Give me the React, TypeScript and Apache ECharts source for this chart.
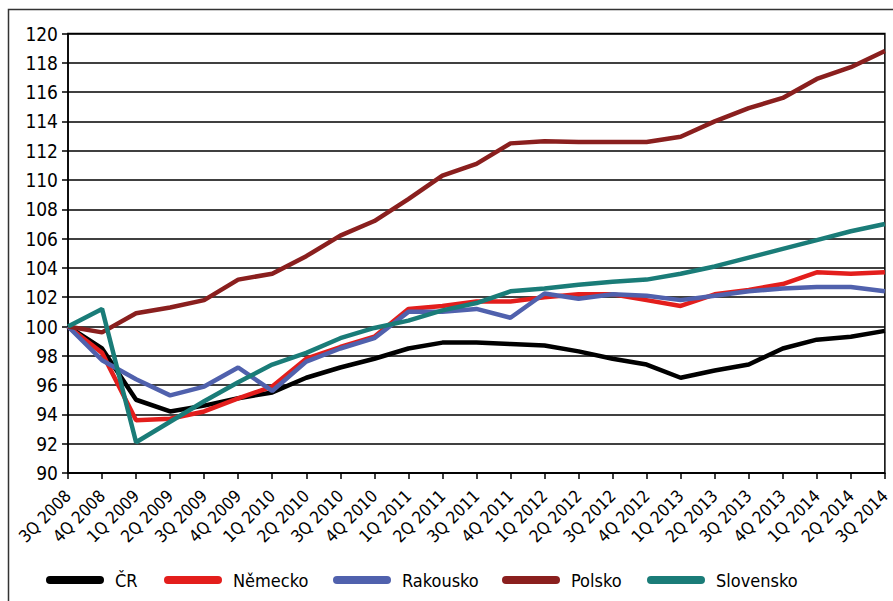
import React, { useEffect, useRef } from "react";
import * as echarts from "echarts";

const categories = [
  "3Q 2008", "4Q 2008", "1Q 2009", "2Q 2009", "3Q 2009", "4Q 2009",
  "1Q 2010", "2Q 2010", "3Q 2010", "4Q 2010", "1Q 2011", "2Q 2011",
  "3Q 2011", "4Q 2011", "1Q 2012", "2Q 2012", "3Q 2012", "4Q 2012",
  "1Q 2013", "2Q 2013", "3Q 2013", "4Q 2013", "1Q 2014", "2Q 2014", "3Q 2014",
];

const cr = [100, 98.5, 95.0, 94.2, 94.6, 95.1, 95.5, 96.5, 97.2, 97.8, 98.5, 98.9, 98.9, 98.8, 98.7, 98.3, 97.8, 97.4, 96.5, 97.0, 97.4, 98.5, 99.1, 99.3, 99.7];
const nemecko = [100, 98.2, 93.6, 93.7, 94.2, 95.1, 95.9, 97.8, 98.6, 99.3, 101.2, 101.4, 101.7, 101.7, 102.0, 102.2, 102.2, 101.8, 101.4, 102.2, 102.5, 102.9, 103.7, 103.6, 103.7];
const rakousko = [100, 97.7, 96.4, 95.3, 95.9, 97.2, 95.6, 97.6, 98.5, 99.2, 101.0, 101.0, 101.2, 100.6, 102.25, 101.9, 102.2, 102.1, 101.8, 102.1, 102.4, 102.6, 102.7, 102.7, 102.4];
const polsko = [100, 99.6, 100.9, 101.3, 101.8, 103.2, 103.6, 104.8, 106.2, 107.2, 108.7, 110.3, 111.1, 112.5, 112.65, 112.6, 112.6, 112.6, 112.95, 114.0, 114.9, 115.6, 116.9, 117.7, 118.8];
const slovensko = [100, 101.2, 92.1, 93.5, 94.9, 96.2, 97.4, 98.2, 99.2, 99.9, 100.4, 101.1, 101.6, 102.4, 102.6, 102.85, 103.05, 103.2, 103.6, 104.1, 104.7, 105.3, 105.9, 106.5, 107.0];

const seriesNames = ["ČR", "Německo", "Rakousko", "Polsko", "Slovensko"];
const seriesData = [cr, nemecko, rakousko, polsko, slovensko];
const seriesColors = ["#000000", "#e31e1c", "#5061ad", "#8a1f1e", "#1a7c78"];
const legendLeft = [46, 164, 333, 502, 647];

const FONT = "'Liberation Sans Narrow', 'DejaVu Sans Condensed', 'Liberation Sans', sans-serif";
const capsule = "path://M4,0 L54,0 A4,4 0 0 1 54,8 L4,8 A4,4 0 0 1 4,0 Z";

export default function App() {
  const ref = useRef<HTMLDivElement>(null);
  useEffect(() => {
    if (!ref.current) return;
    const chart = echarts.init(ref.current, undefined, { renderer: "svg" });
    chart.setOption({
      animation: false,
      backgroundColor: "#ffffff",
      textStyle: { fontFamily: FONT },
      graphic: [
        {
          type: "rect",
          shape: { x: 8.5, y: 9.5, width: 900, height: 600 },
          style: { fill: "none", stroke: "#333", lineWidth: 1.5 },
          silent: true,
        },
      ],
      grid: {
        left: 68,
        right: 2,
        top: 33.5,
        bottom: 128,
        show: true,
        borderColor: "#000",
        borderWidth: 1.5,
        backgroundColor: "transparent",
      },
      legend: seriesNames.map((n, i) => ({
        data: [n],
        left: legendLeft[i],
        top: 571,
        padding: 0,
        itemWidth: 58,
        itemHeight: 8,
        icon: capsule,
        textStyle: {
          fontSize: 18,
          lineHeight: 18,
          color: "#000",
          fontFamily: FONT,
          padding: [0, 0, 0, 6],
        },
      })),
      xAxis: {
        type: "category",
        data: categories,
        boundaryGap: false,
        axisLine: { lineStyle: { color: "#000", width: 1.5 } },
        axisTick: { show: true, length: 6, alignWithLabel: true, lineStyle: { color: "#000", width: 1.5 } },
        axisLabel: {
          rotate: 45,
          interval: 0,
          margin: 20,
          fontSize: 17,
          color: "#000",
          fontFamily: FONT,
        },
        splitLine: { show: false },
      },
      yAxis: {
        type: "value",
        min: 90,
        max: 120,
        interval: 2,
        axisLine: { show: true, lineStyle: { color: "#000", width: 1.5 } },
        axisTick: { show: true, length: 6, lineStyle: { color: "#000", width: 1.5 } },
        axisLabel: { margin: 10, fontSize: 19, color: "#000", fontFamily: FONT },
        splitLine: { show: true, lineStyle: { color: "#000", width: 1.5 } },
      },
      series: seriesNames.map((n, i) => ({
        name: n,
        type: "line",
        data: seriesData[i],
        symbol: "none",
        color: seriesColors[i],
        lineStyle: { color: seriesColors[i], width: 4.5 },
        itemStyle: { color: seriesColors[i] },
      })),
    });
    return () => chart.dispose();
  }, []);
  return (
    <div
      ref={ref}
      style={{ position: "fixed", left: 0, top: 0, width: 893, height: 601, background: "#fff" }}
    />
  );
}
